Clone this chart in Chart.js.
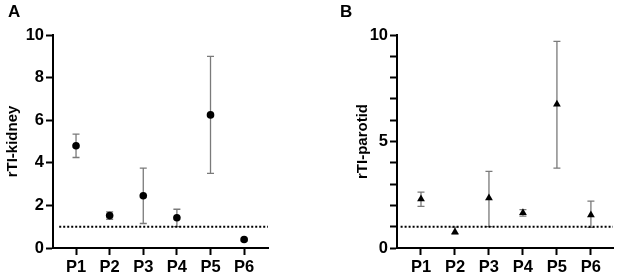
<!DOCTYPE html>
<html>
<head>
<meta charset="utf-8">
<script src="https://cdn.jsdelivr.net/npm/chart.js@4.4.1/dist/chart.umd.min.js"></script>
<style>
  html, body { margin: 0; padding: 0; background: #fff; }
  #wrap { position: relative; width: 618px; height: 279px; }
  canvas { position: absolute; top: 0; }
  .panel { position: absolute; top: 2px; font: bold 17px "Liberation Sans", Arial, sans-serif; color: #000; }
</style>
</head>
<body>
<div id="wrap">
  <canvas id="chartA" width="310" height="279" style="left:0"></canvas>
  <canvas id="chartB" width="308" height="279" style="left:310px"></canvas>
  <div class="panel" style="left:8px">A</div>
  <div class="panel" style="left:340px">B</div>
</div>
<script>
// ---- DATA
var categories = ['P1', 'P2', 'P3', 'P4', 'P5', 'P6'];

var kidneyMean = [4.8, 1.52, 2.45, 1.42, 6.25, 0.4];
var kidneyLow  = [4.25, 1.35, 1.15, 1.0, 3.5, 0.34];
var kidneyHigh = [5.35, 1.7, 3.75, 1.82, 9.0, 0.46];

var parotidMean = [2.3, 0.75, 2.35, 1.65, 6.75, 1.55];
var parotidLow  = [1.95, 0.65, 1.0, 1.5, 3.75, 0.97];
var parotidHigh = [2.62, 0.98, 3.6, 1.8, 9.7, 2.2];

var referenceLevel = 1;

var FONT = '"Liberation Sans", Arial, sans-serif';

// error bars drawn from the data through the chart scales
var errorBarPlugin = {
    id: 'errorBars',
    beforeDatasetsDraw: function(chart, args, opts) {
        var ctx = chart.ctx;
        var xs = chart.scales.x, ys = chart.scales.y;
        ctx.save();
        ctx.strokeStyle = '#7a7a7a';
        ctx.lineWidth = 1.3;
        for (var i = 0; i < opts.low.length; i++) {
            var px = xs.getPixelForValue(i + 1);
            var top = ys.getPixelForValue(opts.high[i]);
            var bot = ys.getPixelForValue(opts.low[i]);
            ctx.beginPath();
            ctx.moveTo(px, top); ctx.lineTo(px, bot);
            ctx.moveTo(px - 3.5, top); ctx.lineTo(px + 3.5, top);
            ctx.moveTo(px - 3.5, bot); ctx.lineTo(px + 3.5, bot);
            ctx.stroke();
        }
        ctx.restore();
    }
};

function toPoints(vals) {
    return vals.map(function(v, i) { return { x: i + 1, y: v }; });
}

function makeChart(id, cfg) {
    var ctx = document.getElementById(id).getContext('2d');
    return new Chart(ctx, {
        type: 'scatter',
        data: {
            datasets: [
                {
                    data: toPoints(cfg.mean),
                    pointStyle: cfg.marker,
                    pointRadius: cfg.marker == 'triangle' ? 4.5 : 3.8,
                    backgroundColor: '#000',
                    borderColor: '#000',
                    borderWidth: 0,
                    order: 0
                },
                {
                    type: 'line',
                    data: [{ x: cfg.lineFrom, y: referenceLevel }, { x: cfg.xMax, y: referenceLevel }],
                    borderColor: '#000',
                    borderWidth: 2,
                    borderDash: [2, 2],
                    pointRadius: 0,
                    order: 1
                }
            ]
        },
        options: {
            responsive: false,
            animation: false,
            events: [],
            layout: { padding: { top: 35, right: cfg.padRight, left: cfg.padLeft, bottom: 0 } },
            plugins: {
                legend: { display: false },
                tooltip: { enabled: false },
                errorBars: { low: cfg.low, high: cfg.high }
            },
            scales: {
                x: {
                    type: 'linear',
                    min: cfg.xMin,
                    max: cfg.xMax,
                    afterFit: function(s) { s.height = 31; },
                    border: { display: true, color: '#000', width: 2 },
                    grid: { drawOnChartArea: false, drawTicks: true, tickLength: 7, tickWidth: 2, tickColor: '#000' },
                    ticks: {
                        stepSize: 1,
                        includeBounds: false,
                        autoSkip: false,
                        maxRotation: 0,
                        padding: 3,
                        color: '#000',
                        font: { family: FONT, size: 16.5, weight: 'bold' },
                        callback: function(v) { return categories[v - 1] || ''; }
                    }
                },
                y: {
                    min: 0,
                    max: 10,
                    afterFit: function(s) { s.width = cfg.yWidth; },
                    border: { display: true, color: '#000', width: 2 },
                    grid: { drawOnChartArea: false, drawTicks: true, tickLength: 7, tickWidth: 2, tickColor: '#000' },
                    ticks: {
                        stepSize: cfg.yStep,
                        autoSkip: false,
                        padding: 2,
                        color: '#000',
                        font: { family: FONT, size: 16.5, weight: 'bold' },
                        callback: function(v) { return (v % cfg.yLabelEvery === 0) ? v : ''; }
                    },
                    title: {
                        display: true,
                        text: cfg.yTitle,
                        color: '#000',
                        padding: 0,
                        font: { family: FONT, size: 15, weight: 'bold' }
                    }
                }
            }
        },
        plugins: [errorBarPlugin]
    });
}

makeChart('chartA', {
    mean: kidneyMean, low: kidneyLow, high: kidneyHigh,
    marker: 'circle', yTitle: 'rTI-kidney',
    xMin: 0.315, xMax: 6.71, lineFrom: 0.5, yStep: 2, yLabelEvery: 2,
    padLeft: 4, yWidth: 49, padRight: 42
});

makeChart('chartB', {
    mean: parotidMean, low: parotidLow, high: parotidHigh,
    marker: 'triangle', yTitle: 'rTI-parotid',
    xMin: 0.294, xMax: 6.65, lineFrom: 0.4, yStep: 1, yLabelEvery: 5,
    padLeft: 44, yWidth: 43, padRight: 5
});
</script>
</body>
</html>
